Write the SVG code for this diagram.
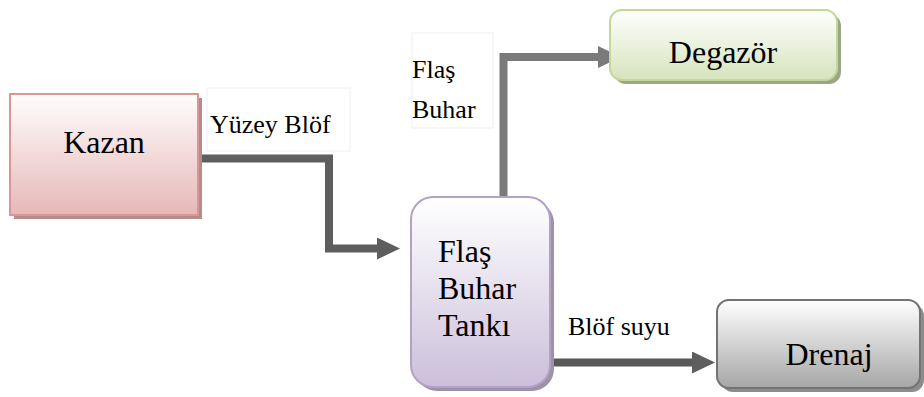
<svg xmlns="http://www.w3.org/2000/svg" width="924" height="397" viewBox="0 0 924 397">
  <defs>
    <linearGradient id="gKazan" x1="0" y1="0" x2="0" y2="1">
      <stop offset="0" stop-color="#fffdfd"/>
      <stop offset="1" stop-color="#e6b8b7"/>
    </linearGradient>
    <linearGradient id="gTank" x1="0" y1="0" x2="0" y2="1">
      <stop offset="0" stop-color="#ffffff"/>
      <stop offset="1" stop-color="#cbbfda"/>
    </linearGradient>
    <linearGradient id="gDegazor" x1="0" y1="0" x2="0" y2="1">
      <stop offset="0" stop-color="#ffffff"/>
      <stop offset="1" stop-color="#d6e3bc"/>
    </linearGradient>
    <linearGradient id="gDrenaj" x1="0" y1="0" x2="0" y2="1">
      <stop offset="0" stop-color="#ffffff"/>
      <stop offset="1" stop-color="#a6a6a6"/>
    </linearGradient>
    <marker id="arrDark" viewBox="0 0 23 22" refX="0" refY="11" markerWidth="23" markerHeight="22" markerUnits="userSpaceOnUse" orient="auto">
      <path d="M0,0 L23,11 L0,22 z" fill="#5e5e5e"/>
    </marker>
    <marker id="arrLight" viewBox="0 0 23 22" refX="0" refY="11" markerWidth="23" markerHeight="22" markerUnits="userSpaceOnUse" orient="auto">
      <path d="M0,0 L23,11 L0,22 z" fill="#7a7a7a"/>
    </marker>
  </defs>
  <style>
    text { font-family: 'Liberation Serif', 'DejaVu Serif', serif; fill: #000000; }
    .node-text { font-size: 32px; }
    .label-text { font-size: 26px; }
    .label-box { fill: #ffffff; stroke: #f0f0f0; stroke-width: 1; }
    .conn { fill: none; stroke-width: 8; stroke-linejoin: miter; }
  </style>
  <rect width="924" height="397" fill="#ffffff"/>

  <!-- edge labels -->
  <g id="label-yuzey-blof">
    <rect class="label-box" x="207" y="88" width="143" height="63"/>
    <text class="label-text" font-family="Liberation Serif, serif" x="210" y="133">Yüzey Blöf</text>
  </g>
  <g id="label-flas-buhar">
    <rect class="label-box" x="412" y="33" width="81" height="95"/>
    <text class="label-text" font-family="Liberation Serif, serif" x="412" y="78">Flaş</text>
    <text class="label-text" font-family="Liberation Serif, serif" x="412" y="118">Buhar</text>
  </g>
  <g id="label-blof-suyu">
    <text class="label-text" font-family="Liberation Serif, serif" x="568" y="335">Blöf suyu</text>
  </g>

  <!-- connectors -->
  <g id="connectors">
    <path class="conn" d="M198,158.5 H329 V248.5 H377" stroke="#5e5e5e" marker-end="url(#arrDark)"/>
    <path class="conn" d="M503.5,198 V57 H598" stroke="#7a7a7a" marker-end="url(#arrLight)"/>
    <path class="conn" d="M550,362.5 H692" stroke="#595959" marker-end="url(#arrDark)"/>
  </g>

  <!-- nodes -->
  <g id="node-kazan">
    <rect x="14" y="98" width="188" height="121" fill="#b38d8c"/>
    <rect x="10" y="94" width="188" height="121" fill="url(#gKazan)" stroke="#d99694" stroke-width="2"/>
    <text class="node-text" font-family="Liberation Serif, serif" x="104" y="153" text-anchor="middle">Kazan</text>
  </g>
  <g id="node-tank">
    <rect x="415" y="201" width="139" height="190" rx="22" fill="#9d93a9"/>
    <rect x="411" y="197" width="139" height="190" rx="22" fill="url(#gTank)" stroke="#b3a2c7" stroke-width="2"/>
    <text class="node-text" font-family="Liberation Serif, serif" x="438" y="262">Flaş</text>
    <text class="node-text" font-family="Liberation Serif, serif" x="438" y="299">Buhar</text>
    <text class="node-text" font-family="Liberation Serif, serif" x="438" y="336">Tankı</text>
  </g>
  <g id="node-degazor">
    <rect x="614" y="14" width="227" height="70" rx="12" fill="#9aa685"/>
    <rect x="610" y="10" width="227" height="70" rx="12" fill="url(#gDegazor)" stroke="#c3d69b" stroke-width="2"/>
    <text class="node-text" font-family="Liberation Serif, serif" x="723" y="63" text-anchor="middle">Degazör</text>
  </g>
  <g id="node-drenaj">
    <rect x="721" y="304" width="203" height="88" rx="12" fill="#8c8c8c"/>
    <rect x="717" y="300" width="203" height="88" rx="12" fill="url(#gDrenaj)" stroke="#737373" stroke-width="2"/>
    <text class="node-text" font-family="Liberation Serif, serif" x="829" y="365" text-anchor="middle">Drenaj</text>
  </g>
</svg>
